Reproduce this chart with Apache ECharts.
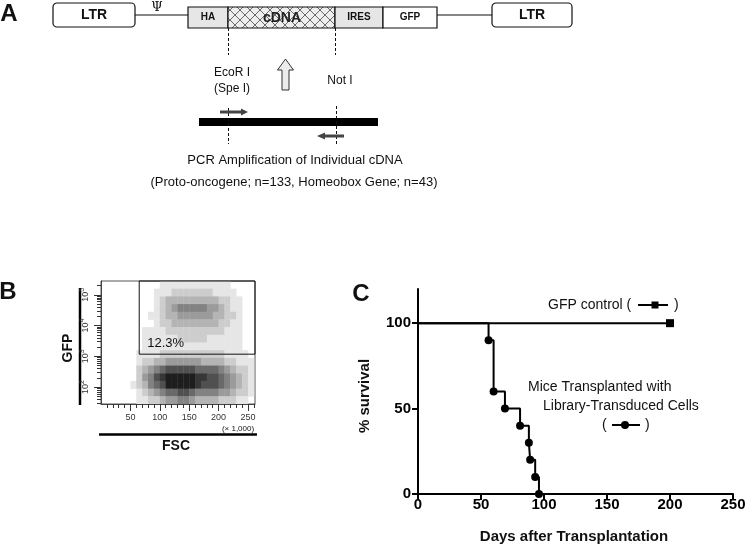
<!DOCTYPE html>
<html><head><meta charset="utf-8">
<script src="https://cdn.jsdelivr.net/npm/echarts@6/dist/echarts.min.js"></script>
<style>html,body{margin:0;padding:0;background:#fff}#c{width:750px;height:550px}</style>
</head><body><div id="c"></div>
<script>
// ---------- Panel C : survival ----------
const libDays = [0, 56, 60, 69, 81, 88, 89, 93, 96];
const libSurvival = [100, 90, 60, 50, 40, 30, 20, 10, 0];
const gfpDays = [0, 200];
const gfpSurvival = [100, 100];
const cXTicks = [0, 50, 100, 150, 200, 250];
const cYTicks = [0, 50, 100];

// ---------- Panel B : flow cytometry (density, 0-9) ----------
const fscTicks = [50, 100, 150, 200, 250];
const fscMinorTicks = [10, 20, 30, 40, 60, 70, 80, 90, 110, 120, 130, 140, 160, 170, 180, 190, 210, 220, 230, 240, 260];
const gfpDecades = [2, 3, 4, 5];
const fscBinLows = [0,10,20,30,40,50,60,70,80,90,100,110,120,130,140,150,160,170,180,190,200,210,220,230,240,250];
const gfpBinLows = [5.20, 4.95, 4.70, 4.45, 4.20, 3.95, 3.70, 3.45, 3.20, 2.95, 2.70, 2.45, 2.20, 1.95, 1.70, 1.45];
const gfpDensity = [
  [0,0,0,0,0,0,0,0,0,0,1,1,1,1,1,1,1,1,1,1,1,1,0,0,0,0],
  [0,0,0,0,0,0,0,0,0,1,1,1,2,2,2,2,2,2,2,1,1,1,1,0,0,0],
  [0,0,0,0,0,0,0,0,0,1,2,3,3,3,3,3,3,3,3,3,2,2,1,1,0,0],
  [0,0,0,0,0,0,0,0,0,1,2,3,4,5,5,5,5,5,4,4,3,2,1,1,0,0],
  [0,0,0,0,0,0,0,0,1,1,2,3,3,4,4,4,4,4,4,3,3,2,2,1,0,0],
  [0,0,0,0,0,0,0,0,0,1,2,2,3,3,3,3,3,3,3,3,2,2,1,1,0,0],
  [0,0,0,0,0,0,0,1,1,1,1,2,2,2,2,2,2,2,2,2,2,1,1,1,0,0],
  [0,0,0,0,0,0,0,1,1,1,1,1,1,2,2,2,2,2,1,1,1,1,1,1,0,0],
  [0,0,0,0,0,0,0,1,1,1,1,1,1,1,1,1,1,1,1,1,1,1,1,1,0,0],
  [0,0,0,0,0,0,1,1,1,1,2,2,2,2,2,2,2,2,2,2,2,1,1,1,1,0],
  [0,0,0,0,0,0,1,2,2,3,3,4,4,4,4,4,4,3,3,3,3,2,2,1,1,1],
  [0,0,0,0,0,0,2,3,4,5,6,7,7,7,7,7,6,6,6,6,5,4,3,2,2,1],
  [0,0,0,0,0,0,2,4,5,7,8,9,9,9,9,9,8,8,7,7,6,5,4,3,2,1],
  [0,0,0,0,0,1,2,3,5,6,7,9,9,9,9,9,8,7,7,7,6,5,4,3,2,1],
  [0,0,0,0,0,0,1,2,3,4,5,6,6,7,7,6,5,5,5,5,4,4,3,2,2,1],
  [0,0,0,0,0,0,1,1,2,2,3,4,4,5,5,4,3,3,3,3,2,2,2,1,1,0]
];
const gateFsc = [65, 262];
const gateGfp = [3.07, 5.45];
const gateLabel = '12.3%';

const FSC_BIN = 10, GFP_BIN = 0.25;
const densityData = [];
gfpDensity.forEach((row, r) => row.forEach((v, c) => {
  if (v > 0) densityData.push([fscBinLows[c], gfpBinLows[r], v]);
}));

const logMinor = [];
[1, 2, 3, 4, 5].forEach(n => { for (let k = 2; k <= 9; k++) { const v = n + Math.log10(k); if (v > 1.45 && v < 5.45) logMinor.push(v); } });

// hatch pattern for cDNA
const hc = document.createElement('canvas');
hc.width = 10; hc.height = 10;
const hx = hc.getContext('2d');
hx.fillStyle = '#eeeeee'; hx.fillRect(0, 0, 10, 10);
hx.strokeStyle = '#6a6a6a'; hx.lineWidth = 1;
hx.beginPath(); hx.moveTo(0, 0); hx.lineTo(10, 10); hx.moveTo(0, 10); hx.lineTo(10, 0); hx.stroke();

const F = 'Arial, "Liberation Sans", Helvetica, sans-serif';
function txt(text, x, y, font, align, opts) {
  return Object.assign({
    type: 'text', x: x, y: y, silent: true,
    style: { text: text, font: font, fill: '#111', align: align || 'center', verticalAlign: 'middle',
      textAlign: align || 'center', textVerticalAlign: 'middle' }
  }, opts || {});
}
function box(x, y, w, h, fill, r) {
  return { type: 'rect', shape: { x: x, y: y, width: w, height: h, r: r || 0 },
    style: { fill: fill, stroke: '#111', lineWidth: 1.2 } };
}
function line(x1, y1, x2, y2, w, dash, color) {
  return { type: 'line', shape: { x1: x1, y1: y1, x2: x2, y2: y2 },
    style: { stroke: color || '#111', lineWidth: w || 1, lineDash: dash || null } };
}

const graphics = [
  // panel letters
  txt('A', 9, 14, 'bold 24px ' + F),
  txt('B', 8, 292, 'bold 24px ' + F),
  txt('C', 361, 294, 'bold 24px ' + F),
  // Panel A construct
  line(135, 15, 188, 15, 1.2), line(437, 15, 492, 15, 1.2),
  box(53, 3, 82, 24, '#fff', 4), txt('LTR', 94, 15, 'bold 14px ' + F),
  box(492, 3, 80, 24, '#fff', 4), txt('LTR', 532, 15, 'bold 14px ' + F),
  txt('\u03A8', 157, 8, '13px "DejaVu Serif", serif'),
  box(188, 7, 40, 21, '#e6e6e6'), txt('HA', 208, 17.5, 'bold 10px ' + F),
  { type: 'rect', shape: { x: 228, y: 7, width: 107, height: 21 }, style: { fill: { image: hc, repeat: 'repeat' }, stroke: '#111', lineWidth: 1.2 } },
  txt('cDNA', 282, 18, 'bold 14px ' + F, 'center', { style: { text: 'cDNA', font: 'bold 14px ' + F, fill: '#222', align: 'center', verticalAlign: 'middle', textAlign: 'center', textVerticalAlign: 'middle' } }),
  box(335, 7, 48, 21, '#e6e6e6'), txt('IRES', 359, 17.5, 'bold 10px ' + F),
  box(383, 7, 54, 21, '#fff'), txt('GFP', 410, 17.5, 'bold 10px ' + F),
  line(228.5, 28, 228.5, 55, 1, [3, 2]), line(335.5, 28, 335.5, 55, 1, [3, 2]),
  txt('EcoR I', 232, 73, '12px ' + F), txt('(Spe I)', 232, 89, '12px ' + F),
  txt('Not I', 340, 81, '12px ' + F),
  { type: 'polygon', shape: { points: [[285.5, 59], [293.5, 70], [289, 70], [289, 90], [282, 90], [282, 70], [277.5, 70]] },
    style: { fill: '#ececec', stroke: '#333', lineWidth: 1 } },
  { type: 'rect', shape: { x: 199, y: 118, width: 179, height: 8 }, style: { fill: '#000' } },
  line(228.5, 108, 228.5, 144, 1, [3, 2]), line(336.5, 106, 336.5, 146, 1, [3, 2]),
  line(220, 112, 242, 112, 3, null, '#444'),
  { type: 'polygon', shape: { points: [[241, 108.5], [248, 112], [241, 115.5]] }, style: { fill: '#444' } },
  line(324, 136, 344, 136, 3, null, '#444'),
  { type: 'polygon', shape: { points: [[325, 132.5], [317, 136], [325, 139.5]] }, style: { fill: '#444' } },
  txt('PCR Amplification of Individual cDNA', 295, 160, '13px ' + F),
  txt('(Proto-oncogene; n=133, Homeobox Gene; n=43)', 294, 182, '13px ' + F),
  // Panel B decorations
  line(80, 288, 80, 405, 2.5, null, '#000'),
  txt('GFP', 68, 348, 'bold 14px ' + F, 'center', { rotation: Math.PI / 2 }),
  line(99, 434.5, 257, 434.5, 2.5, null, '#000'),
  txt('FSC', 176, 446, 'bold 14px ' + F),
  txt('(\u00d7 1,000)', 238, 429, '8px ' + F),
  // Panel C labels
  txt('Days after Transplantation', 574, 537, 'bold 15px ' + F),
  txt('% survival', 365, 396, 'bold 15px ' + F, 'center', { rotation: Math.PI / 2 }),
  txt('GFP control (', 548, 305, '14px ' + F, 'left'),
  line(638, 305, 668, 305, 2, null, '#000'),
  { type: 'rect', shape: { x: 651.5, y: 301.5, width: 7, height: 7 }, style: { fill: '#000' } },
  txt(')', 674, 305, '14px ' + F, 'left'),
  txt('Mice Transplanted with', 528, 387, '14px ' + F, 'left'),
  txt('Library-Transduced Cells', 543, 406, '14px ' + F, 'left'),
  txt('(', 602, 425, '14px ' + F, 'left'),
  line(612, 425, 640, 425, 2, null, '#000'),
  { type: 'circle', shape: { cx: 625, cy: 425, r: 4 }, style: { fill: '#000' } },
  txt(')', 645, 425, '14px ' + F, 'left')
];

const chart = echarts.init(document.getElementById('c'), null, { renderer: 'canvas' });
chart.setOption({
  animation: false,
  backgroundColor: '#fff',
  grid: [
    { left: 101, top: 281, width: 154, height: 123, show: true, borderColor: '#555', borderWidth: 1, backgroundColor: 'transparent' },
    { left: 418, top: 289, width: 315, height: 205 }
  ],
  xAxis: [
    { gridIndex: 0, type: 'value', min: 0, max: 262, position: 'bottom',
      axisLine: { lineStyle: { color: '#444', width: 1 } },
      axisTick: { customValues: fscTicks, length: 7, lineStyle: { color: '#333' } },
      axisLabel: { customValues: fscTicks, fontSize: 9, color: '#333', margin: 9, fontFamily: F },
      splitLine: { show: false } },
    { gridIndex: 0, type: 'value', min: 0, max: 262, position: 'bottom',
      axisLine: { show: false },
      axisTick: { customValues: fscMinorTicks, length: 4, lineStyle: { color: '#333' } },
      axisLabel: { show: false }, splitLine: { show: false } },
    { gridIndex: 1, type: 'value', min: 0, max: 250, interval: 50,
      axisLine: { lineStyle: { color: '#000', width: 2 } },
      axisTick: { length: 6, lineStyle: { color: '#000', width: 2 } },
      axisLabel: { fontSize: 15, fontWeight: 'bold', color: '#000', margin: 3, fontFamily: F },
      splitLine: { show: false } }
  ],
  yAxis: [
    { gridIndex: 0, type: 'value', min: 1.45, max: 5.45, position: 'left',
      axisLine: { lineStyle: { color: '#444', width: 1 } },
      axisTick: { customValues: gfpDecades, length: 7, lineStyle: { color: '#333' } },
      axisLabel: { customValues: gfpDecades, rotate: 90, margin: 9, color: '#333',
        formatter: v => '{b|10}{s|' + Math.round(v) + '}',
        rich: { b: { fontSize: 9, fontFamily: F, color: '#333' }, s: { fontSize: 7, fontFamily: F, color: '#333', padding: [0, 0, 6, 0] } } },
      splitLine: { show: false } },
    { gridIndex: 0, type: 'value', min: 1.45, max: 5.45, position: 'left',
      axisLine: { show: false },
      axisTick: { customValues: logMinor, length: 4, lineStyle: { color: '#333' } },
      axisLabel: { show: false }, splitLine: { show: false } },
    { gridIndex: 1, type: 'value', min: 0, max: 120, position: 'left',
      axisLine: { show: true, lineStyle: { color: '#000', width: 2 } },
      axisTick: { show: true, customValues: cYTicks, length: 6, lineStyle: { color: '#000', width: 2 } },
      axisLabel: { customValues: cYTicks, fontSize: 15, fontWeight: 'bold', color: '#000', margin: 7, fontFamily: F },
      splitLine: { show: false } }
  ],
  series: [
    { type: 'custom', name: 'density', xAxisIndex: 0, yAxisIndex: 0, clip: true, silent: true,
      data: densityData,
      renderItem: function (params, api) {
        const x0 = api.value(0), y0 = api.value(1), v = api.value(2);
        const a = api.coord([x0, y0 + GFP_BIN]);
        const b = api.coord([x0 + FSC_BIN, y0]);
        const g = Math.round(255 - v * 25);
        return { type: 'rect', shape: { x: a[0], y: a[1], width: b[0] - a[0] + 0.4, height: b[1] - a[1] + 0.4 },
          style: { fill: 'rgb(' + g + ',' + g + ',' + g + ')' } };
      } },
    { type: 'custom', name: 'gate', xAxisIndex: 0, yAxisIndex: 0, clip: false, silent: true, z: 5,
      data: [[gateFsc[0], gateGfp[0], gateFsc[1], gateGfp[1]]],
      renderItem: function (params, api) {
        const a = api.coord([api.value(0), api.value(3)]);
        const b = api.coord([api.value(2), api.value(1)]);
        return { type: 'group', children: [
          { type: 'rect', shape: { x: a[0], y: a[1], width: b[0] - a[0], height: b[1] - a[1] },
            style: { fill: 'none', stroke: '#111', lineWidth: 1 } },
          { type: 'text', style: { text: gateLabel, x: a[0] + 8, y: b[1] - 11, font: '13px ' + F, fill: '#111',
            align: 'left', verticalAlign: 'middle', textAlign: 'left', textVerticalAlign: 'middle' } }
        ] };
      } },
    { type: 'line', name: 'GFP control', xAxisIndex: 2, yAxisIndex: 2, clip: false, z: 4,
      data: gfpDays.map((d, i) => ({ value: [d, gfpSurvival[i]], symbol: i === gfpDays.length - 1 ? 'rect' : 'none' })),
      symbolSize: 8, lineStyle: { color: '#000', width: 2 }, itemStyle: { color: '#000' } },
    { type: 'line', name: 'Library', xAxisIndex: 2, yAxisIndex: 2, step: 'end', clip: false, z: 5,
      data: libDays.map((d, i) => ({ value: [d, libSurvival[i]], symbol: i === 0 ? 'none' : 'circle' })),
      symbolSize: 8, lineStyle: { color: '#000', width: 2 }, itemStyle: { color: '#000' } }
  ],
  graphic: { elements: graphics }
});
</script></body></html>
